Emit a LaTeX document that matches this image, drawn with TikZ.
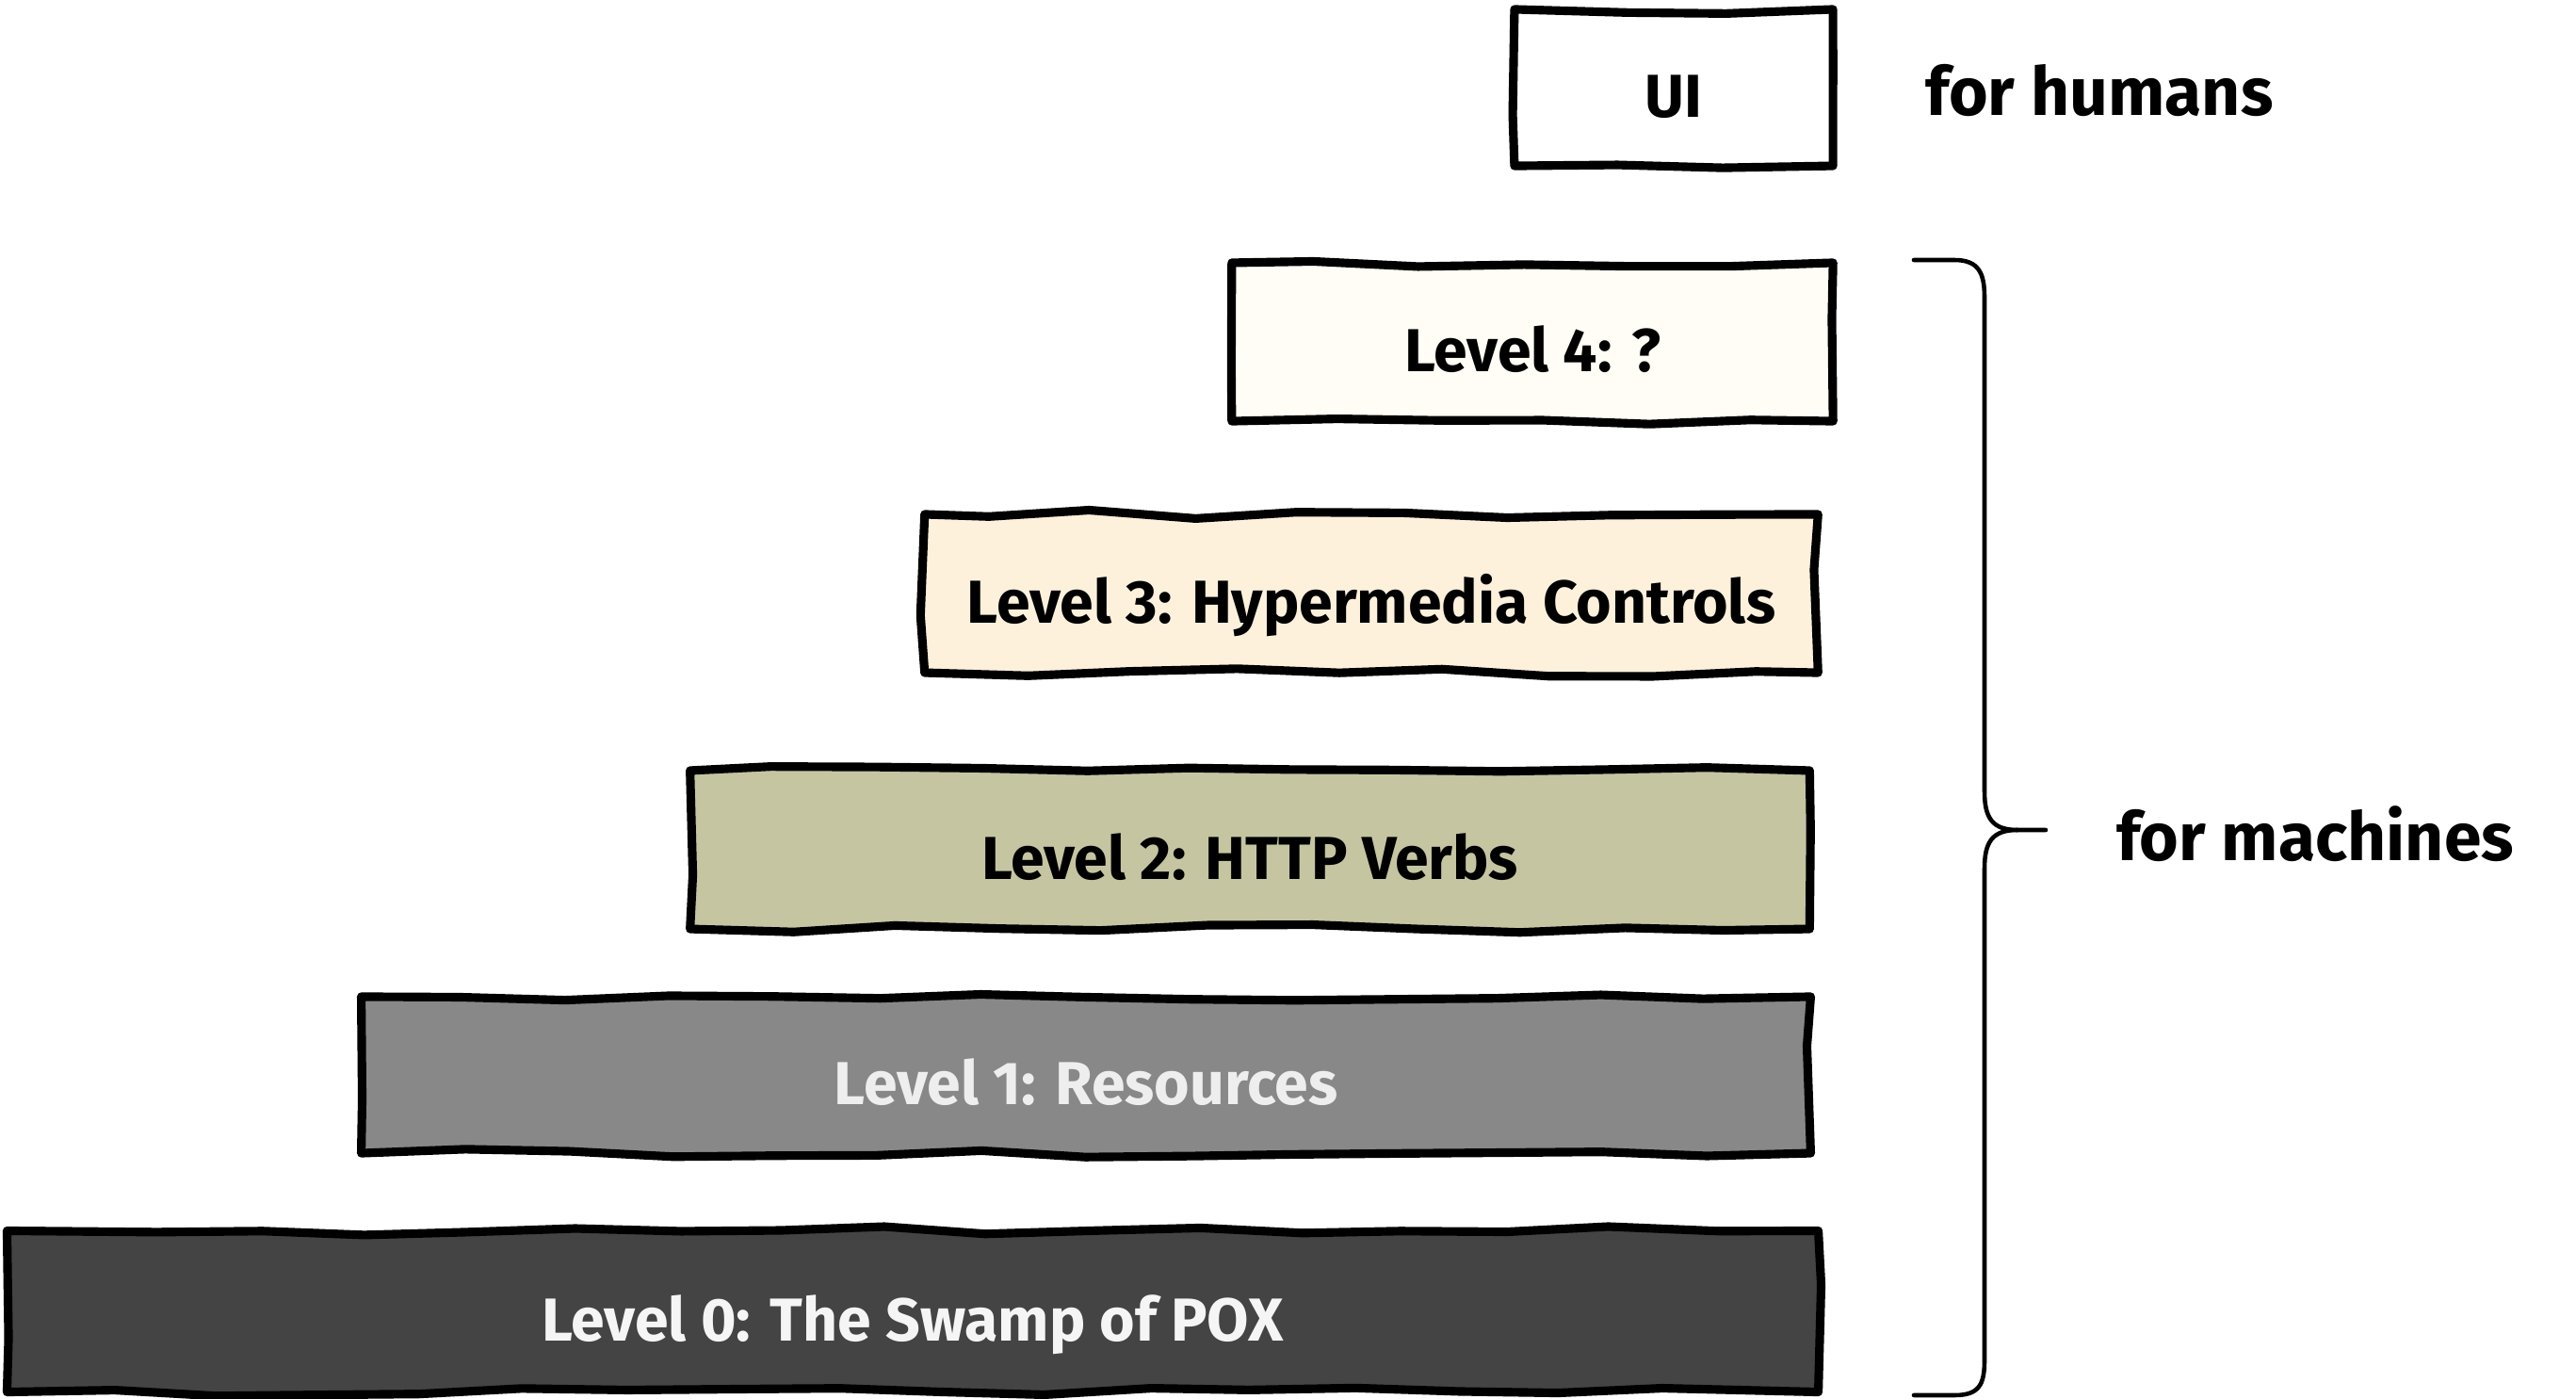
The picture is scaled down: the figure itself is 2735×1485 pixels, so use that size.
\documentclass[tikz,border=0pt]{standalone}
\usepackage{fontspec}
\setmainfont{Fira Sans}
\usetikzlibrary{decorations.pathmorphing}
\definecolor{cL4}{HTML}{FFFDF5}
\definecolor{cL3}{HTML}{FDF1DC}
\definecolor{cL2}{HTML}{C5C5A2}
\definecolor{cL1}{HTML}{888888}
\definecolor{cL0}{HTML}{444444}
\definecolor{txtlight}{HTML}{EEEEEE}
\definecolor{txtwhite}{HTML}{F5F5F5}
\tikzset{
  lvl/.style={draw=black, line width=2.6pt, line join=round, decorate,
    decoration={random steps, segment length=1.1cm, amplitude=0.045cm},
    inner sep=0pt, text height=0.7cm, text depth=0.07cm,
    font=\fontsize{18.3}{21}\selectfont\bfseries},
  sidelabel/.style={inner sep=0pt, font=\fontsize{20.3}{24}\selectfont\bfseries},
  bracestyle/.style={line width=1.3pt, line cap=round, line join=round}
}
\begin{document}
\begin{tikzpicture}[x=0.01cm, y=-0.01cm]
\pgfmathsetseed{7}
\useasboundingbox (0,0) rectangle (2735,1485);
\node[lvl, fill=white, minimum width=3.38cm, minimum height=1.66cm] (ui) at (1777,93) {UI};
\node[lvl, fill=cL4, minimum width=6.38cm, minimum height=1.68cm] (l4) at (1627,363) {Level 4: ?};
\node[lvl, fill=cL3, minimum width=9.48cm, minimum height=1.68cm] (l3) at (1456,630) {Level 3: Hypermedia Controls};
\node[lvl, fill=cL2, minimum width=11.88cm, minimum height=1.68cm] (l2) at (1327,902) {Level 2: HTTP Verbs};
\node[lvl, fill=cL1, text=txtlight, minimum width=15.38cm, minimum height=1.66cm] (l1) at (1153,1141) {Level 1: Resources};
\node[lvl, fill=cL0, text=txtwhite, minimum width=19.22cm, minimum height=1.71cm] (l0) at (969,1392) {Level 0: The Swamp of POX};
\node[sidelabel] (humans) at (2229,96) {for humans};
\node[sidelabel] (machines) at (2458,885) {for machines};
\coordinate (btop) at (2032,276);
\coordinate (btip) at (2172,881);
\coordinate (bbot) at (2032,1481);
\draw[bracestyle] (btop) -- (2075,276) .. controls (2101,276) and (2107,290) .. (2107,316) -- (2107,840) .. controls (2107,868) and (2115,881) .. (2142,881) -- (btip);
\draw[bracestyle] (2142,881) .. controls (2115,881) and (2107,894) .. (2107,922) -- (2107,1444) .. controls (2107,1470) and (2101,1481) .. (2075,1481) -- (bbot);
\end{tikzpicture}
\end{document}
